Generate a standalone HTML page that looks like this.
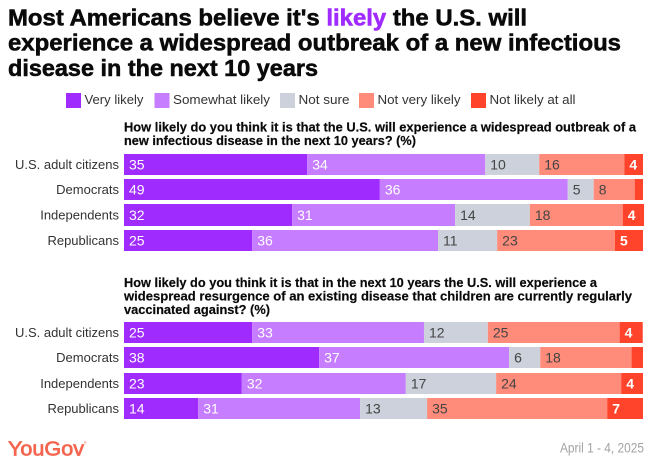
<!DOCTYPE html>
<html lang="en">
<head>
<meta charset="utf-8">
<title>Most Americans believe it's likely the U.S. will experience a widespread outbreak</title>
<style>
html,body{margin:0;padding:0;background:#fff;}
svg{display:block;font-family:"Liberation Sans",sans-serif;}
</style>
</head>
<body>
<svg id="chart" width="656" height="462" viewBox="0 0 656 462" xmlns="http://www.w3.org/2000/svg">
  <g font-size="23" font-weight="700" fill="#0a0a0a" stroke="#0a0a0a" stroke-width="0.55">
    <text x="8" y="25.5" textLength="519" lengthAdjust="spacingAndGlyphs">Most Americans believe it's <tspan fill="#a02bff" stroke="#a02bff">likely</tspan> the U.S. will</text>
    <text x="8" y="50.5" textLength="613" lengthAdjust="spacingAndGlyphs">experience a widespread outbreak of a new infectious</text>
    <text x="8" y="76" textLength="310" lengthAdjust="spacingAndGlyphs">disease in the next 10 years</text>
  </g>
  <g id="legend"></g>
  <g font-size="13" font-weight="700" fill="#0a0a0a" stroke="#0a0a0a" stroke-width="0.2">
    <text x="124" y="131.5" textLength="512" lengthAdjust="spacingAndGlyphs">How likely do you think it is that the U.S. will experience a widespread outbreak of a</text>
    <text x="124" y="145" textLength="292" lengthAdjust="spacingAndGlyphs">new infectious disease in the next 10 years? (%)</text>
  </g>
  <g font-size="13" font-weight="700" fill="#0a0a0a" stroke="#0a0a0a" stroke-width="0.2">
    <text x="124" y="287" textLength="473" lengthAdjust="spacingAndGlyphs">How likely do you think it is that in the next 10 years the U.S. will experience a</text>
    <text x="124" y="300.5" textLength="508" lengthAdjust="spacingAndGlyphs">widespread resurgence of an existing disease that children are currently regularly</text>
    <text x="124" y="314" textLength="146" lengthAdjust="spacingAndGlyphs">vaccinated against? (%)</text>
  </g>
  <g id="panel-1"></g>
  <g id="panel-2"></g>
  <text x="8" y="455.5" font-size="20" font-weight="400" fill="#f4654f" stroke="#f4654f" stroke-width="0.7" textLength="76" lengthAdjust="spacingAndGlyphs">YouGov</text>
  <text x="84" y="444" font-size="3.5" fill="#f4654f">®</text>
  <text x="644" y="452.7" font-size="13.5" fill="#a3a3a3" text-anchor="end" textLength="84" lengthAdjust="spacingAndGlyphs">April 1 - 4, 2025</text>
</svg>
<script>
var categories = ["U.S. adult citizens", "Democrats", "Independents", "Republicans"];
var responses = ["Very likely", "Somewhat likely", "Not sure", "Not very likely", "Not likely at all"];
var panel1Values = [
  [35.3, 34.3, 10.4, 16.4, 3.6],
  [49.3, 36.2, 5.0, 7.9, 1.6],
  [32.4, 31.4, 14.4, 17.9, 4.1],
  [24.7, 35.8, 11.4, 22.7, 5.4]
];
var panel2Values = [
  [24.7, 33.1, 12.3, 25.4, 4.45],
  [37.6, 36.6, 6.0, 17.6, 2.2],
  [22.7, 31.6, 17.4, 24.1, 4.2],
  [14.3, 31.2, 12.9, 34.7, 6.9]
];

var NS = "http://www.w3.org/2000/svg";
var colors = ["#a02bff", "#c77dff", "#cdd1dc", "#ff8c7a", "#ff442b"];
var labelColors = ["#ffffff", "#ffffff", "#444444", "#444444", "#ffffff"];
var plotLeft = 124;
var plotRight = 643;

function xScale(v) {
  return plotLeft + (v / 100) * (plotRight - plotLeft);
}

function make(tag, attrs, parent) {
  var el = document.createElementNS(NS, tag);
  Object.keys(attrs).forEach(function (k) { el.setAttribute(k, attrs[k]); });
  parent.appendChild(el);
  return el;
}

function slug(s) {
  return s.toLowerCase().replace(/[^a-z0-9]+/g, "-").replace(/-$/, "");
}

function drawPanel(parent, values, rowTops, rowHeights) {
  values.forEach(function (row, r) {
    var top = rowTops[r];
    var h = rowHeights[r];
    var cat = make("text", { x: 119, y: top + h / 2 + 4.5, "font-size": 13, fill: "#333333", "text-anchor": "end" }, parent);
    
    
    cat.textContent = categories[r];
    var cum = 0;
    row.forEach(function (v, s) {
      var x0 = xScale(cum);
      var x1 = xScale(cum + v);
      var rect = make("rect", { x: x0, y: top, width: x1 - x0, height: h, fill: colors[s] }, parent);
      
      
      if (x1 - x0 > 13) {
        var t = make("text", { x: x0 + 5, y: top + h / 2 + 5, "font-size": 14, fill: labelColors[s], "font-weight": s === 4 ? 700 : 400 }, parent);
        
        
        t.textContent = Math.round(v);
      }
      cum += v;
    });
  });
}

var legendSwatchX = [66, 154.5, 280, 359, 471];
var legendTextWidths = [59, 97, 51, 83, 86];
var legend = document.getElementById("legend");
responses.forEach(function (name, i) {
  var sw = make("rect", { x: legendSwatchX[i], y: 93, width: 15, height: 15, fill: colors[i] }, legend);
  
  
  var t = make("text", { x: legendSwatchX[i] + 18.5, y: 104, "font-size": 13, fill: "#333333", textLength: legendTextWidths[i], lengthAdjust: "spacingAndGlyphs" }, legend);
  
  
  t.textContent = name;
});

drawPanel(document.getElementById("panel-1"), panel1Values, [154, 179, 204, 230], [21, 21, 22, 21]);
drawPanel(document.getElementById("panel-2"), panel2Values, [322, 347, 373, 398], [21, 21, 21, 21]);
</script>
</body>
</html>
